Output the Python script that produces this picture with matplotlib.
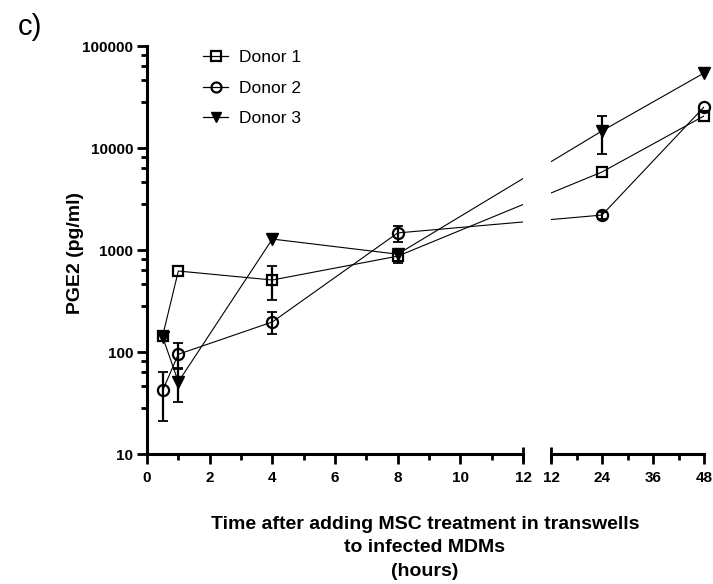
import numpy as np
import matplotlib
matplotlib.use('Agg')
import matplotlib.pyplot as plt
from matplotlib.ticker import FixedLocator, NullFormatter
from matplotlib.lines import Line2D

plt.rcParams['font.family'] = ['Liberation Sans', 'DejaVu Sans']

# hours after adding MSC treatment
hours = [0.5, 1, 4, 8, 24, 48]

# PGE2 (pg/ml), mean and error per donor (nan = no visible bar)
donor1 = [144, 622, 508, 870, 5820, 20600]
donor1_err = [np.nan, np.nan, 185, 130, np.nan, np.nan]
donor2 = [42, 95, 197, 1470, 2200, 25200]
donor2_err = [21, 27, 47, 260, 170, np.nan]
donor3 = [140, 51, 1280, 910, 14700, 54300]
donor3_err = [np.nan, 19, np.nan, np.nan, 5950, np.nan]

left_ticks = [0, 2, 4, 6, 8, 10, 12]
right_ticks = [12, 24, 36, 48]
y_ticks = [10, 100, 1000, 10000, 100000]

# broken x axis: both parts share one straight coordinate so the
# connecting lines run straight across the gap
GAP = 0.894
R = 0.1356


def fwd_left(x):
    x = np.asarray(x, dtype=float)
    return np.where(x <= 12, x, 12 + GAP + (x - 12) * R)


def inv_left(u):
    u = np.asarray(u, dtype=float)
    return np.where(u <= 12, u, 12 + (u - 12 - GAP) / R)


def fwd_right(x):
    x = np.asarray(x, dtype=float)
    return np.where(x < 12, x, 12 + GAP + (x - 12) * R)


def inv_right(u):
    u = np.asarray(u, dtype=float)
    return np.where(u < 12 + GAP, u, 12 + (u - 12 - GAP) / R)


fig = plt.figure(figsize=(7.13, 5.84), dpi=100)
W, H = 713.0, 584.0
bottom = 1 - 454 / H
height = 408 / H
axL = fig.add_axes([147 / W, bottom, 376 / W, height])
axR = fig.add_axes([551 / W, bottom, 153 / W, height])

axL.set_xscale('function', functions=(fwd_left, inv_left))
axR.set_xscale('function', functions=(fwd_right, inv_right))

series = [
    ('Donor 1', donor1, donor1_err, dict(marker='s', ms=7.5, mfc='none', mew=1.6)),
    ('Donor 2', donor2, donor2_err, dict(marker='o', ms=8, mfc='none', mew=1.6)),
    ('Donor 3', donor3, donor3_err, dict(marker='v', ms=8, mfc='black', mew=1.0)),
]

x = np.array(hours, dtype=float)
for ax, keep in [(axL, x <= 12), (axR, x >= 12)]:
    for name, y, err, mk in series:
        y = np.array(y, dtype=float)
        err = np.array(err, dtype=float)
        # connecting line, clipped to each part of the axis
        ax.plot(x, y, color='black', lw=0.8, zorder=2)
        # error bars and markers only for points inside this part
        ax.errorbar(x[keep], y[keep], yerr=err[keep], fmt='none', ecolor='black',
                    elinewidth=1.6, capsize=3.8, capthick=1.3, zorder=3, clip_on=False)
        ax.plot(x[keep], y[keep], linestyle='none', color='black',
                mec='black', clip_on=False, zorder=4, **mk)

for ax in (axL, axR):
    ax.set_yscale('log')
    ax.set_ylim(10, 100000)
    ax.spines['top'].set_visible(False)
    ax.spines['right'].set_visible(False)
    ax.spines['bottom'].set_linewidth(2.2)
    ax.spines['left'].set_linewidth(2.2)
    ax.tick_params(axis='both', which='major', direction='out', length=7, width=2.0,
                   labelsize=11, pad=3)
    ax.tick_params(axis='x', which='major', pad=5)
    ax.tick_params(axis='both', which='minor', direction='out', length=4, width=2.0)

axL.set_xlim(0, 12)
axL.xaxis.set_major_locator(FixedLocator(left_ticks))
axL.xaxis.set_minor_locator(FixedLocator([1, 3, 5, 7, 9, 11]))
axL.xaxis.set_minor_formatter(NullFormatter())
axL.set_xticklabels([str(t) for t in left_ticks], fontweight='bold')

minor_y = [k * 10 ** d for d in range(1, 5) for k in (2.8, 4.6, 6.4, 8.2)]
axL.yaxis.set_major_locator(FixedLocator(y_ticks))
axL.yaxis.set_minor_locator(FixedLocator(minor_y))
axL.yaxis.set_minor_formatter(NullFormatter())
axL.set_yticklabels([str(t) for t in y_ticks], fontweight='bold')

axR.set_xlim(12, 48)
axR.xaxis.set_major_locator(FixedLocator(right_ticks))
axR.xaxis.set_minor_locator(FixedLocator([18, 30, 42]))
axR.xaxis.set_minor_formatter(NullFormatter())
axR.set_xticklabels([str(t) for t in right_ticks], fontweight='bold')
axR.spines['left'].set_visible(False)
axR.tick_params(axis='y', which='both', left=False, labelleft=False)

# end marks at the axis break
for ax, xe in [(axL, 1.0), (axR, 0.0)]:
    ax.plot([xe, xe], [-0.016, 0.016], transform=ax.transAxes, color='black',
            lw=2.0, clip_on=False, solid_capstyle='butt')

# legend
leg_handles = [Line2D([], [], color='black', lw=0.9, **mk) for _, _, _, mk in series]
fig.legend(leg_handles, [s[0] for s in series], loc='upper left',
           bbox_to_anchor=(203 / W, 1 - 50 / H), frameon=False, fontsize=12.5,
           handlelength=1.45, handletextpad=0.65, labelspacing=0.88,
           markerscale=0.9, borderpad=0, borderaxespad=0)

fig.text(75 / W, 1 - 253 / H, 'PGE2 (pg/ml)', rotation=90, ha='center', va='center',
         fontsize=14, fontweight='bold')
fig.text(425 / W, 1 - 516 / H,
         'Time after adding MSC treatment in transwells\nto infected MDMs\n(hours)',
         ha='center', va='top', fontsize=14, fontweight='bold', linespacing=1.5)
fig.text(18 / W, 1 - 27 / H, 'c)', ha='left', va='center', fontsize=21)

fig.savefig('out.png', dpi=100)
